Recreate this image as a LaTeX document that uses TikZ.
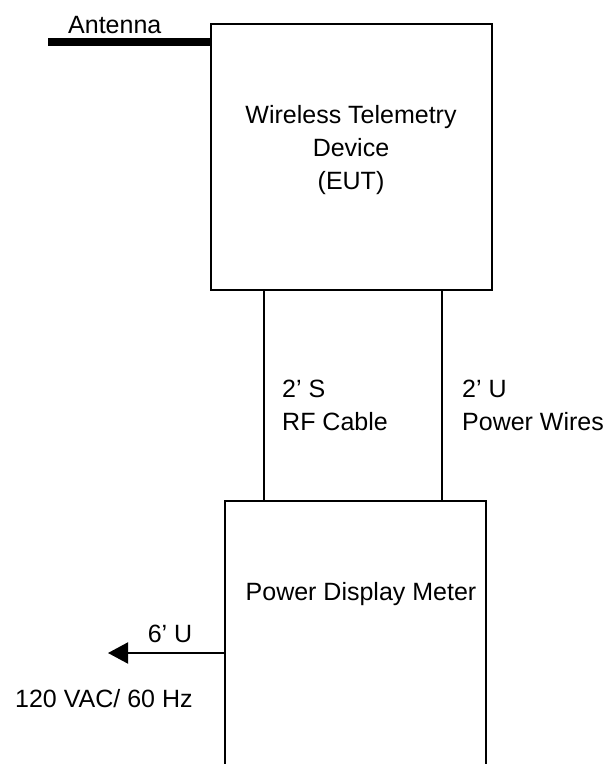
\documentclass[tikz,border=0pt]{standalone}
\usepackage{fontspec}
\setmainfont{Liberation Sans}
\usetikzlibrary{arrows.meta}
\begin{document}
\begin{tikzpicture}[x=1pt,y=-1pt,
  box/.style={draw,line width=2pt,anchor=north west,inner sep=0pt},
  wire/.style={line width=2pt},
  lbl/.style={font=\fontsize{25}{33}\selectfont,inner sep=0pt}]
\useasboundingbox (0,0) rectangle (610,764);
\clip (0,0) rectangle (610,764);
\node[box,minimum width=281pt,minimum height=266pt] (eut) at (210,23) {};
\node[box,minimum width=261pt,minimum height=300pt] (pdm) at (224,500) {};
\node[lbl,align=center,anchor=north] (eutt) at (351,105) {Wireless Telemetry\\Device\\(EUT)};
\node[lbl,anchor=base] (pdmt) at (361,600) {Power Display Meter};
\coordinate (antend) at (48,42);
\draw[line width=7.5pt] (antend) -- (antend -| eut.west);
\node[lbl,anchor=base west] (ant) at (68,33) {Antenna};
\coordinate (rfT) at (264,289);
\coordinate (pwT) at (442,289);
\draw[wire] (rfT) -- (rfT |- pdm.north);
\draw[wire] (pwT) -- (pwT |- pdm.north);
\node[lbl,align=left,anchor=north west] (rf) at (282,380) {2’ S\\RF Cable};
\node[lbl,align=left,anchor=north west] (pw) at (462,380) {2’ U\\Power Wires};
\coordinate (acend) at (108,653);
\draw[wire,-{Triangle[length=20pt,width=21pt]}] (pdm.west |- acend) -- (acend);
\node[lbl,anchor=base] (six) at (170,642) {6’ U};
\node[lbl,anchor=base west] (ac) at (15,707) {120 VAC/ 60 Hz};
\end{tikzpicture}
\end{document}
